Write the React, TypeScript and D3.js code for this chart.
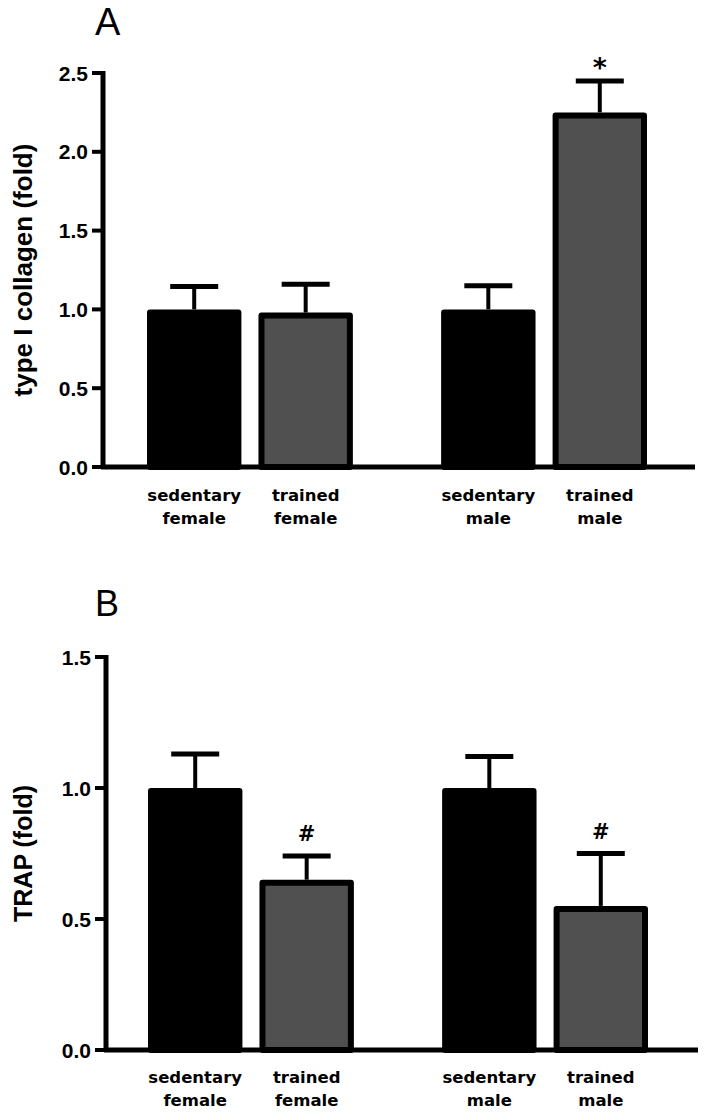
import React from "react";
import * as d3 from "d3";

const groups = ["female", "male"];
const conditions = ["sedentary", "trained"];
const collagenMean = [1.0, 0.98, 1.0, 2.25];
const collagenSEM = [0.145, 0.18, 0.15, 0.2];
const collagenTicks = [0, 0.5, 1.0, 1.5, 2.0, 2.5];
const collagenMarks = ["", "", "", "*"];
const trapMean = [1.0, 0.65, 1.0, 0.55];
const trapSEM = [0.13, 0.09, 0.12, 0.2];
const trapTicks = [0, 0.5, 1.0, 1.5];
const trapMarks = ["", "#", "", "#"];

const FONT = "'Liberation Sans', Arial, sans-serif";
const LABEL_FONT = "'DejaVu Sans', Verdana, sans-serif";
const fills = ["#000000", "#505050"];

type PanelProps = {
  letter: string;
  letterY: number;
  ylabel: string;
  ylabelSize: number;
  means: number[];
  sems: number[];
  ticks: number[];
  marks: string[];
  yTop: number;
  yBottom: number;
  axisX: number;
  xStart: number;
  xEnd: number;
  axisEnd: number;
  labelY: number;
  markSize: number;
  markGap: number;
};

function Panel(p: PanelProps) {
  const y = d3
    .scaleLinear()
    .domain([0, p.ticks[p.ticks.length - 1]])
    .range([p.yBottom, p.yTop]);
  const gx = d3.scaleBand<string>().domain(groups).range([p.xStart, p.xEnd]).paddingInner(0.3).paddingOuter(0);
  const ix = d3.scaleBand<string>().domain(conditions).range([0, gx.bandwidth()]).paddingInner(0.153).paddingOuter(0);
  const sw = 6;
  const bars = groups.flatMap((g, gi) =>
    conditions.map((c, ci) => {
      const i = gi * 2 + ci;
      const x0 = (gx(g) as number) + (ix(c) as number);
      const w = ix.bandwidth();
      return { g, c, i, x0, w, cx: x0 + w / 2, v: p.means[i], e: p.sems[i], fill: fills[ci], mark: p.marks[i] };
    })
  );
  const y0 = y(0);
  const ylabelCenter = (p.yTop + p.yBottom) / 2;
  return (
    <g>
      <text x={95} y={p.letterY} fontFamily={FONT} fontSize={p.letter === "A" ? 38 : 36} fill="#000">
        {p.letter}
      </text>
      <text
        transform={`translate(32, ${ylabelCenter}) rotate(-90)`}
        textAnchor="middle"
        fontFamily={FONT}
        fontWeight="bold"
        fontSize={p.ylabelSize}
        fill="#000"
      >
        {p.ylabel}
      </text>
      {p.ticks.map((t) => (
        <g key={t}>
          <line x1={p.axisX - 11} x2={p.axisX} y1={y(t)} y2={y(t)} stroke="#000" strokeWidth={4} />
          <text
            x={p.axisX - 15}
            y={y(t)}
            dy="0.36em"
            textAnchor="end"
            fontFamily={FONT}
            fontWeight="bold"
            fontSize={21}
            fill="#000"
          >
            {t.toFixed(1)}
          </text>
        </g>
      ))}
      {bars.map((b) => (
        <g key={b.i}>
          <line x1={b.cx} x2={b.cx} y1={y(b.v)} y2={y(b.v + b.e)} stroke="#000" strokeWidth={4} />
          <line x1={b.cx - 24} x2={b.cx + 24} y1={y(b.v + b.e)} y2={y(b.v + b.e)} stroke="#000" strokeWidth={5} />
          <rect
            x={b.x0 + sw / 2}
            y={y(b.v) + sw / 2}
            width={b.w - sw}
            height={y0 - y(b.v) - sw / 2}
            fill={b.fill}
            stroke="#000"
            strokeWidth={sw}
            strokeLinejoin="round"
          />
          {b.mark && (
            <text
              x={b.cx}
              y={y(b.v + b.e) - p.markGap}
              textAnchor="middle"
              fontFamily={LABEL_FONT}
              fontWeight="bold"
              fontSize={p.markSize}
              fill="#000"
            >
              {b.mark}
            </text>
          )}
          <text x={b.cx} y={p.labelY} textAnchor="middle" fontFamily={LABEL_FONT} fontWeight="bold" fontSize={16.5} fill="#000">
            {b.c}
          </text>
          <text x={b.cx} y={p.labelY + 23} textAnchor="middle" fontFamily={LABEL_FONT} fontWeight="bold" fontSize={16.5} fill="#000">
            {b.g}
          </text>
        </g>
      ))}
      <line x1={p.axisX} x2={p.axisX} y1={y0} y2={p.yTop - 2} stroke="#000" strokeWidth={5} />
      <line x1={p.axisX - 2} x2={p.axisEnd} y1={y0} y2={y0} stroke="#000" strokeWidth={5} />
    </g>
  );
}

export default function App() {
  return (
    <svg
      width={705}
      height={1116}
      style={{ position: "absolute", left: 0, top: 0, background: "#fff" }}
      xmlns="http://www.w3.org/2000/svg"
    >
      <rect width={705} height={1116} fill="#fff" />
      <Panel
        letter="A"
        letterY={35}
        ylabel="type I collagen (fold)"
        ylabelSize={26}
        means={collagenMean}
        sems={collagenSEM}
        ticks={collagenTicks}
        marks={collagenMarks}
        yTop={73}
        yBottom={467}
        axisX={103}
        xStart={147}
        xEnd={647}
        axisEnd={695}
        labelY={501}
        markSize={27}
        markGap={4}
      />
      <Panel
        letter="B"
        letterY={616}
        ylabel="TRAP (fold)"
        ylabelSize={25}
        means={trapMean}
        sems={trapSEM}
        ticks={trapTicks}
        marks={trapMarks}
        yTop={657}
        yBottom={1050}
        axisX={106}
        xStart={148}
        xEnd={648}
        axisEnd={698}
        labelY={1083}
        markSize={21}
        markGap={15}
      />
    </svg>
  );
}
